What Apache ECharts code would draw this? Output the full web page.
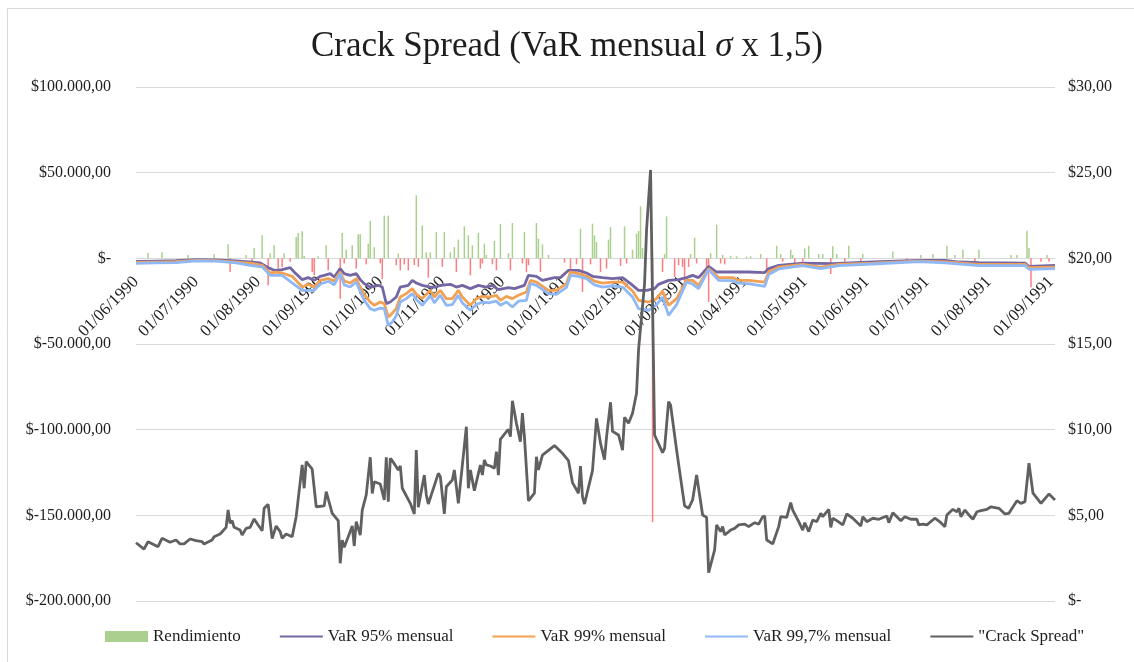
<!DOCTYPE html>
<html>
<head>
<meta charset="utf-8">
<title>Crack Spread</title>
<script src="https://cdn.jsdelivr.net/npm/echarts@6.0.0/dist/echarts.min.js"></script>
<style>
  html, body { margin: 0; padding: 0; background: #fff; }
  #chart { width: 1134px; height: 662px; }
</style>
</head>
<body>
<div id="chart"></div>
<script>
// days counted from 01/06/1990
const monthLabels = ['01/06/1990', '01/07/1990', '01/08/1990', '01/09/1990', '01/10/1990', '01/11/1990',
  '01/12/1990', '01/01/1991', '01/02/1991', '01/03/1991', '01/04/1991', '01/05/1991', '01/06/1991',
  '01/07/1991', '01/08/1991', '01/09/1991']

// [day, value]
const rendimiento = [[6,3100],[13,3500],[26,2000],[39,2500],[46,8170],[47,-8000],[55,2000],[58,-4080],[59,6000],
  [63,13420],[66,-15760],[67,2800],[69,7590],[71,-6000],[73,-5000],[74,3000],[77,-2000],[80,12430],[81,14770],
  [83,15760],[84,1500],[88,-8000],[89,-9920],[91,1200],[95,7590],[96,-7000],[102,-23520],[103,14770],[104,-3000],
  [105,5000],[108,7590],[110,-6000],[111,14010],[112,14010],[115,-3500],[116,8560],[117,21770],[119,6500],
  [122,-3000],[123,-12000],[124,24920],[126,24920],[130,-4000],[131,2800],[132,-7000],[134,-3500],[136,-7000],
  [139,-4000],[140,36770],[141,-5000],[143,19260],[145,3500],[146,-11260],[147,3500],[150,15350],[153,-5000],
  [154,15350],[157,3500],[159,6600],[160,-8000],[161,10910],[164,18670],[166,13420],[167,-9920],[168,7590],
  [171,14770],[172,-6000],[173,-3000],[174,8560],[175,2000],[178,-3500],[179,10100],[180,-7000],[182,20000],
  [186,3000],[187,-7000],[188,20600],[193,-3000],[194,15350],[195,-8000],[196,-4000],[200,20600],[201,11500],
  [202,-8000],[203,8170],[206,2000],[214,-2500],[217,-8000],[220,-3500],[222,17330],[223,-19670],[227,-3500],
  [228,20250],[229,13420],[230,9510],[232,-8000],[235,-6000],[236,10910],[237,18270],[242,-4500],[244,18670],
  [245,-3000],[248,5000],[250,14410],[251,15930],[252,30350],[253,6000],[258,-154000],[263,-8000],[264,2500],
  [265,24510],[269,-10900],[271,-4000],[273,-5000],[274,-17680],[276,-5000],[277,2500],[279,12080],[280,-3000],
  [285,-5000],[286,-25500],[287,3000],[290,19670],[292,-3000],[293,2000],[294,-3500],[297,1500],[300,1200],
  [305,1000],[307,1200],[312,2500],[315,-8170],[320,7350],[322,2500],[323,-2000],[327,5000],[328,2000],
  [329,-3500],[333,-2000],[334,5800],[336,7350],[341,2500],[343,2500],[347,-9160],[348,7000],[350,2500],
  [354,-2000],[356,7350],[362,-2000],[363,2500],[378,4000],[385,-1500],[392,2000],[398,2500],[405,7350],
  [409,2000],[413,5000],[419,-2000],[421,5000],[437,2000],[440,2000],[445,16100],[446,6000],[447,-16920],
  [452,-2000],[455,2000],[456,-2000]]

const var95 = [[0,-1800],[10,-1600],[20,-1400],[30,-800],[40,-900],[50,-1500],[58,-2200],[62,-2700],[66,-5430],
  [69,-7000],[73,-6600],[77,-5430],[79,-8000],[83,-12430],[86,-11260],[89,-12840],[92,-10500],[94,-9920],
  [97,-8930],[99,-10900],[102,-6010],[104,-8930],[107,-9920],[110,-8930],[112,-12430],[114,-14770],[117,-16750],
  [121,-15760],[123,-16750],[125,-26440],[127,-25500],[130,-22590],[132,-16750],[136,-15760],[138,-12840],
  [140,-14410],[143,-15760],[147,-16750],[150,-16750],[152,-15760],[157,-15170],[160,-16750],[163,-15760],
  [167,-17680],[171,-15760],[175,-16750],[178,-15760],[181,-18270],[186,-17100],[189,-17680],[194,-15760],
  [196,-9920],[200,-10500],[203,-12840],[209,-11260],[212,-11260],[216,-7000],[221,-7000],[225,-8560],
  [228,-10500],[233,-11260],[238,-11850],[243,-11260],[247,-14770],[251,-18670],[255,-18670],[259,-17680],
  [261,-15170],[266,-12840],[271,-12430],[275,-11260],[278,-9920],[281,-11260],[286,-4670],[290,-7990],
  [298,-7990],[306,-7990],[314,-8300],[316,-6000],[321,-4080],[333,-2740],[348,-3100],[368,-2150],[391,-1170],
  [404,-1170],[411,-2150],[421,-2450],[444,-2740],[446,-4670],[459,-4080]]

const var99 = [[0,-2400],[10,-2200],[20,-2000],[30,-1200],[40,-1300],[50,-2200],[58,-3000],[63,-4080],[67,-8560],
  [70,-7990],[73,-8560],[78,-10500],[83,-16750],[86,-15170],[89,-16750],[92,-12840],[96,-11850],[99,-13250],
  [102,-7990],[104,-13250],[107,-14410],[110,-11850],[112,-16750],[114,-21010],[117,-25500],[119,-27430],
  [122,-25500],[124,-26440],[126,-34260],[127,-33260],[130,-29360],[132,-22590],[135,-20600],[138,-17680],
  [140,-21010],[143,-23520],[147,-18670],[149,-22590],[152,-18670],[155,-23520],[158,-23520],[161,-18670],
  [163,-22590],[167,-27430],[170,-23520],[173,-22180],[176,-22590],[180,-21590],[182,-24510],[185,-22180],
  [188,-23520],[191,-21590],[195,-19670],[197,-12840],[200,-13830],[206,-18670],[210,-18670],[215,-14770],
  [217,-7990],[221,-8930],[225,-10500],[229,-13250],[233,-14410],[238,-13830],[243,-13830],[248,-19080],
  [251,-24510],[256,-25500],[260,-23520],[263,-19080],[266,-27430],[270,-23520],[275,-12840],[278,-12840],
  [281,-15760],[286,-6010],[291,-11260],[298,-11260],[301,-12840],[306,-12840],[314,-13830],[316,-8000],
  [321,-5100],[333,-3500],[342,-5100],[351,-3500],[368,-2740],[391,-1580],[404,-2150],[421,-3500],[444,-3500],
  [446,-5430],[459,-5100]]

const var997 = [[0,-2900],[10,-2700],[20,-2500],[30,-1500],[40,-1600],[50,-2700],[57,-4080],[63,-5000],
  [67,-9920],[73,-9920],[83,-18670],[89,-18670],[92,-15000],[96,-13500],[97,-13830],[99,-15500],[102,-8930],
  [104,-15500],[107,-16750],[110,-13830],[112,-19500],[114,-24510],[117,-29360],[119,-30350],[122,-29000],
  [124,-29360],[126,-39100],[128,-37180],[130,-33500],[132,-25500],[135,-23500],[138,-20600],[140,-24000],
  [143,-27430],[147,-21590],[149,-26000],[152,-21500],[155,-27430],[158,-27000],[161,-21590],[163,-26000],
  [167,-30350],[170,-27000],[173,-25500],[176,-26000],[180,-25000],[182,-27430],[185,-25500],[188,-28420],
  [191,-25000],[195,-24510],[197,-14770],[200,-15760],[206,-20600],[210,-21010],[215,-17000],[217,-9920],
  [221,-10500],[225,-11850],[229,-15500],[233,-16750],[238,-16000],[243,-16750],[248,-22590],[251,-29360],
  [256,-30350],[260,-27000],[263,-22590],[266,-33260],[270,-27000],[275,-13830],[278,-15000],[281,-17680],
  [286,-6590],[291,-12840],[298,-13000],[301,-14500],[306,-14770],[314,-16340],[316,-9500],[321,-6200],
  [333,-4300],[342,-6000],[351,-4200],[368,-3300],[391,-1900],[404,-2600],[421,-4200],[444,-4200],[446,-6400],
  [459,-6000]]

const crackSpread = [[0,3.40],[4,3.03],[6,3.46],[11,3.17],[13,3.66],[17,3.43],[20,3.56],[22,3.33],[24,3.33],
  [27,3.62],[30,3.52],[33,3.46],[34,3.33],[38,3.56],[39,3.75],[42,3.91],[45,4.30],[46,5.31],[47,4.54],[48,4.69],
  [49,4.30],[52,4.14],[53,3.85],[55,4.24],[57,4.30],[59,4.79],[61,4.44],[63,4.10],[64,5.41],[66,5.64],[68,3.64],
  [70,4.38],[72,4.05],[73,3.66],[75,3.91],[78,3.75],[80,4.92],[83,7.94],[84,6.58],[85,8.13],[88,7.69],[90,5.50],
  [94,5.55],[95,6.38],[98,5.12],[101,4.69],[102,2.20],[103,3.56],[104,3.13],[108,4.38],[109,3.21],[110,4.63],
  [112,3.85],[113,5.31],[115,6.19],[117,8.39],[118,6.28],[119,6.96],[122,6.83],[124,5.90],[125,8.39],[126,5.80],
  [127,8.33],[128,8.19],[131,7.65],[132,7.88],[133,6.58],[137,5.70],[139,5.08],[140,8.81],[141,5.47],[144,7.35],
  [145,6.19],[146,5.66],[151,7.45],[152,7.26],[154,5.08],[155,6.67],[158,7.06],[159,7.65],[161,5.70],
  [165,10.17],[166,6.58],[167,7.65],[169,6.44],[172,7.94],[173,7.35],[174,8.23],[175,7.94],[177,7.88],
  [179,7.75],[180,8.72],[181,7.35],[182,9.44],[185,9.88],[186,10.02],[187,9.59],[188,11.69],[190,10.37],
  [192,9.30],[193,10.96],[194,9.59],[196,5.85],[199,6.29],[200,8.42],[201,7.65],[203,8.52],[209,9.07],
  [213,8.62],[216,8.19],[218,6.91],[221,6.29],[222,7.88],[223,6.09],[224,5.66],[228,7.61],[230,10.66],
  [232,9.20],[234,8.25],[235,9.55],[237,11.60],[238,9.90],[241,9.69],[243,8.81],[244,10.72],[246,10.37],
  [248,10.96],[250,12.12],[251,14.65],[254,18.50],[255,21.65],[257,25.16],[259,9.69],[263,8.66],[264,8.91],
  [266,11.63],[267,11.44],[270,8.81],[274,5.55],[276,5.41],[278,5.90],[280,7.35],[283,5.02],[285,4.88],
  [286,1.65],[289,2.98],[290,4.44],[292,4.05],[293,4.34],[294,3.85],[297,4.14],[299,4.24],[301,4.44],
  [304,4.49],[306,4.34],[309,4.57],[311,4.49],[313,4.92],[314,4.96],[315,3.56],[318,3.33],[321,4.34],
  [322,4.92],[325,4.88],[327,5.74],[328,5.31],[331,4.63],[333,4.14],[334,4.57],[336,4.05],[338,4.73],
  [340,4.63],[342,5.12],[343,4.92],[346,5.35],[347,4.30],[348,4.83],[350,4.69],[353,4.44],[355,5.08],
  [358,4.83],[362,4.38],[363,4.92],[365,4.63],[368,4.83],[371,4.77],[375,4.96],[376,4.57],[378,5.15],
  [382,4.69],[384,4.92],[387,4.77],[390,4.77],[391,4.44],[393,4.49],[395,4.44],[399,4.83],[402,4.57],
  [404,4.34],[405,5.02],[408,5.35],[410,5.21],[411,5.41],[412,4.92],[414,5.31],[416,5.02],[418,4.77],
  [420,5.21],[422,5.27],[425,5.35],[427,5.50],[431,5.41],[434,5.08],[436,5.12],[437,5.31],[440,5.85],
  [442,5.70],[444,5.80],[446,8.04],[448,6.29],[452,5.70],[456,6.25],[459,5.90]]

const lastDay = 459
const font = 'Liberation Serif, Times New Roman, serif'
const textColor = '#1e1e1e'
// thin band so the legend shows a plain line, no dot
const flatSymbol = 'path://M0,0 L0,0 M0,4.7 L10,4.7 L10,5.3 L0,5.3 Z M10,10 L10,10'

const gridTop = 87
const gridBottom = 61
const leftMin = -200000
const leftMax = 100000

function dayOf(label) {
    const p = label.split('/')
    return Math.round((new Date(+p[2], +p[1] - 1, +p[0]) - new Date(1990, 5, 1)) / 86400000)
}
function pad(n) {
    return n < 10 ? '0' + n : '' + n
}
function dateText(day) {
    const d = new Date(1990, 5, 1 + Math.round(day))
    return pad(d.getDate()) + '/' + pad(d.getMonth() + 1) + '/' + d.getFullYear()
}
function money(v) {
    if (v === 0) return '$-'
    const abs = Math.abs(v).toFixed(0).replace(/\B(?=(\d{3})+(?!\d))/g, '.')
    return '$' + (v < 0 ? '-' : '') + abs + ',00'
}
function lineSeries(name, data, color, axis) {
    return {
        name: name,
        type: 'line',
        yAxisIndex: axis,
        symbol: flatSymbol,
        showSymbol: false,
        lineStyle: { color: color, width: 2.8 },
        itemStyle: { color: color },
        data: data
    }
}

const chart = echarts.init(document.getElementById('chart'))

// the date axis sits on the $- line, like Excel does
const plotHeight = 662 - gridTop - gridBottom
const zeroOffset = -plotHeight * (0 - leftMin) / (leftMax - leftMin)

chart.setOption({
    animation: false,
    backgroundColor: '#fff',
    graphic: [{
        type: 'rect',
        shape: { x: 7.5, y: 8.5, width: 1140, height: 680 },
        style: { fill: 'none', stroke: '#d9d9d9', lineWidth: 1 },
        silent: true
    }],
    title: {
        text: 'Crack Spread (VaR mensual {s|σ} x 1,5)',
        left: 'center',
        top: 24,
        textStyle: {
            fontFamily: font,
            fontSize: 35,
            fontWeight: 'normal',
            color: textColor,
            rich: {
                s: { fontFamily: font, fontSize: 35, fontStyle: 'italic', color: textColor }
            }
        }
    },
    legend: {
        bottom: 12,
        left: 100,
        itemWidth: 43,
        itemHeight: 11,
        itemGap: 38,
        textStyle: { fontFamily: font, fontSize: 17, color: textColor },
        data: [
            { name: 'Rendimiento', icon: 'rect' },
            'VaR 95% mensual',
            'VaR 99% mensual',
            'VaR 99,7% mensual',
            '"Crack Spread"'
        ]
    },
    grid: {
        left: 136,
        right: 79,
        top: gridTop,
        bottom: gridBottom
    },
    xAxis: {
        type: 'value',
        min: 0,
        max: lastDay,
        offset: zeroOffset,
        axisLine: {
            onZero: false,
            lineStyle: { color: '#d9d9d9', width: 1 }
        },
        axisTick: { show: false },
        splitLine: { show: false },
        axisLabel: {
            customValues: monthLabels.map(dayOf),
            rotate: 45,
            margin: 21,
            fontFamily: font,
            fontSize: 17,
            color: textColor,
            formatter: dateText
        }
    },
    yAxis: [
        {
            type: 'value',
            min: leftMin,
            max: leftMax,
            interval: 50000,
            axisLine: { show: false },
            axisTick: { show: false },
            splitLine: { lineStyle: { color: '#d9d9d9', width: 1 } },
            axisLabel: {
                margin: 25,
                fontFamily: font,
                fontSize: 16,
                color: textColor,
                formatter: money
            }
        },
        {
            type: 'value',
            min: 0,
            max: 30,
            interval: 5,
            axisLine: { show: false },
            axisTick: { show: false },
            splitLine: { show: false },
            axisLabel: {
                margin: 13,
                fontFamily: font,
                fontSize: 16,
                color: textColor,
                formatter: v => (v === 0 ? '$-' : '$' + v + ',00')
            }
        }
    ],
    series: [
        {
            name: 'Rendimiento',
            type: 'bar',
            yAxisIndex: 0,
            barWidth: 1.5,
            itemStyle: { color: '#a9d08e' },
            data: rendimiento.map(p => ({
                value: p,
                itemStyle: { color: p[1] < 0 ? '#ff7c80' : '#a9d08e' }
            }))
        },
        lineSeries('VaR 95% mensual', var95, '#7466a4', 0),
        lineSeries('VaR 99% mensual', var99, '#f2a153', 0),
        lineSeries('VaR 99,7% mensual', var997, '#8fb8f6', 0),
        lineSeries('"Crack Spread"', crackSpread, '#606060', 1)
    ]
})
</script>
</body>
</html>
